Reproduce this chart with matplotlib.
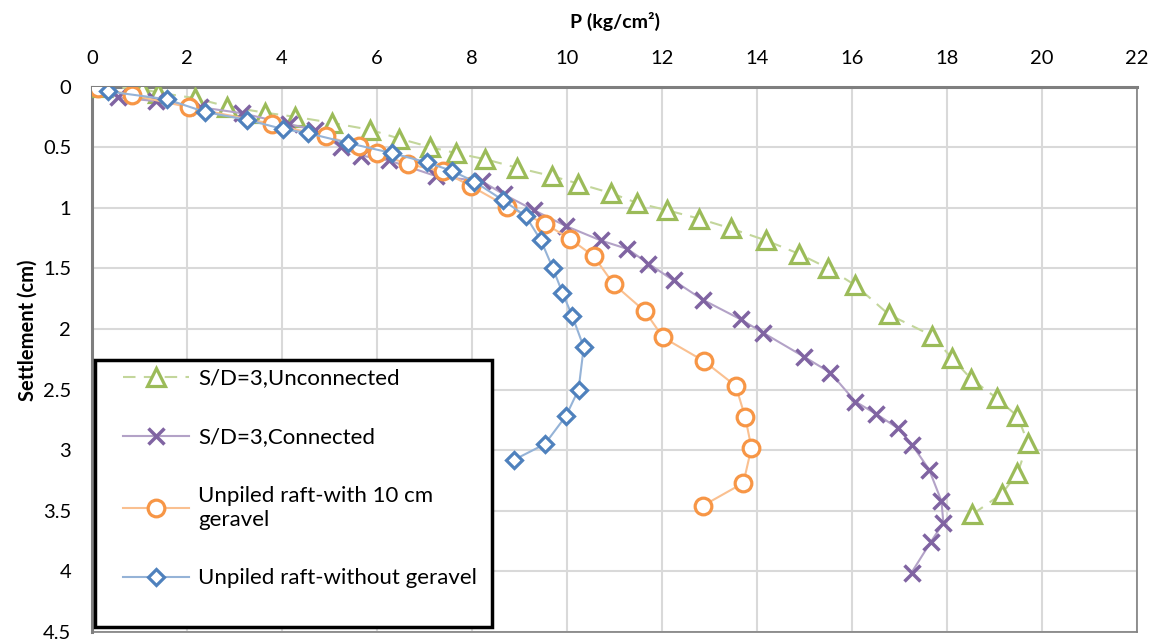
import matplotlib.pyplot as plt
from matplotlib.patches import Rectangle
from matplotlib.ticker import MultipleLocator, FuncFormatter

# S/D=3, unconnected
p_unconn = [0.2, 1.06, 1.39, 2.17, 2.85, 3.63, 4.28, 5.05, 5.86, 6.47, 7.12, 7.67,
            8.28, 8.95, 9.69, 10.23, 10.93, 11.47, 12.10, 12.78, 13.44, 14.19, 14.88,
            15.50, 16.07, 16.77, 17.68, 18.10, 18.50, 19.04, 19.48, 19.70, 19.48,
            19.15, 18.53]
s_unconn = [0.0, 0.02, 0.05, 0.096, 0.165, 0.215, 0.25, 0.30, 0.357, 0.43, 0.50, 0.55,
            0.60, 0.67, 0.74, 0.80, 0.88, 0.96, 1.02, 1.09, 1.17, 1.27, 1.38,
            1.50, 1.64, 1.88, 2.055, 2.24, 2.41, 2.57, 2.72, 2.94, 3.19,
            3.36, 3.53]

# S/D=3, connected
p_conn = [0.0, 0.55, 1.34, 2.27, 3.15, 4.15, 4.70, 5.24, 5.67, 6.25, 7.25, 8.20,
          8.67, 9.30, 9.97, 10.71, 11.27, 11.71, 12.24, 12.86, 13.65, 14.12, 14.99,
          15.54, 16.07, 16.50, 16.97, 17.27, 17.62, 17.88, 17.92, 17.65, 17.25]
s_conn = [0.0, 0.09, 0.12, 0.17, 0.22, 0.31, 0.36, 0.50, 0.57, 0.61, 0.74, 0.78,
          0.89, 1.02, 1.15, 1.27, 1.34, 1.46, 1.60, 1.76, 1.92, 2.03, 2.23,
          2.36, 2.60, 2.70, 2.82, 2.96, 3.16, 3.42, 3.60, 3.76, 4.01]

# unpiled raft with 10 cm gravel
p_grav = [0.13, 0.83, 2.03, 3.79, 4.92, 5.62, 6.00, 6.65, 7.38, 7.97, 8.74, 9.53,
          10.07, 10.56, 10.98, 11.64, 12.02, 12.88, 13.55, 13.75, 13.88, 13.71, 12.85]
s_grav = [0.01, 0.07, 0.17, 0.31, 0.41, 0.49, 0.55, 0.64, 0.70, 0.82, 0.99, 1.13,
          1.26, 1.40, 1.63, 1.855, 2.07, 2.265, 2.47, 2.73, 2.98, 3.27, 3.46]

# unpiled raft without gravel
p_nograv = [0.33, 1.57, 2.38, 3.27, 4.01, 4.55, 5.38, 6.32, 7.04, 7.57, 8.05, 8.66,
            9.13, 9.45, 9.70, 9.90, 10.11, 10.35, 10.24, 9.98, 9.53, 8.88]
s_nograv = [0.04, 0.105, 0.21, 0.275, 0.35, 0.385, 0.465, 0.55, 0.625, 0.695, 0.785, 0.94,
            1.07, 1.27, 1.50, 1.70, 1.895, 2.15, 2.50, 2.715, 2.95, 3.08]

plt.rcParams['font.family'] = ['Lato', 'DejaVu Sans']

fig = plt.figure(figsize=(11.51, 6.41), dpi=100)
ax = fig.add_axes([0.080, 0.014, 0.908, 0.851])

ax.plot(p_unconn, s_unconn, color='#c3d69b', lw=1.5, ls=(0, (6, 4)),
        marker='^', ms=12.5, mfc='white', mec='#9bbb59', mew=2.3,
        label='S/D=3,Unconnected', zorder=3)
ax.plot(p_conn, s_conn, color='#b3a2c7', lw=1.5,
        marker='x', ms=11, mec='#8064a2', mew=2.5,
        label='S/D=3,Connected', zorder=3)
ax.plot(p_grav, s_grav, color='#fac090', lw=1.5,
        marker='o', ms=12, mfc='white', mec='#f79646', mew=2.3,
        label='Unpiled raft-with 10 cm\ngeravel', zorder=3)
ax.plot(p_nograv, s_nograv, color='#95b3d7', lw=1.5,
        marker='D', ms=8.5, mfc='white', mec='#4f81bd', mew=2.3,
        label='Unpiled raft-without geravel', zorder=3)

ax.set_xlim(0, 22)
ax.set_ylim(4.5, 0)
ax.xaxis.set_major_locator(MultipleLocator(2))
ax.yaxis.set_major_locator(MultipleLocator(0.5))
ax.yaxis.set_major_formatter(FuncFormatter(lambda v, pos: '%g' % v))
ax.xaxis.tick_top()
ax.xaxis.set_label_position('top')
ax.tick_params(axis='both', length=0, labelsize=14.5, colors='black')
ax.tick_params(axis='x', pad=14)
ax.tick_params(axis='y', pad=15)
ax.grid(True, color='#d9d9d9', lw=1.5)
ax.set_axisbelow(True)

for side in ['left', 'top']:
    ax.spines[side].set_color('#7f7f7f')
    ax.spines[side].set_linewidth(2.2)
for side in ['right', 'bottom']:
    ax.spines[side].set_color('#7f7f7f')
    ax.spines[side].set_linewidth(1.2)

ax.set_xlabel('P (kg/cm²)', fontsize=14, fontweight='bold', labelpad=16)
ax.set_ylabel('Settlement (cm)', fontsize=14.5, fontweight='bold')
ax.yaxis.set_label_coords(-0.052, 0.554)

# legend box (Excel style, fixed size)
ax.add_patch(Rectangle((0.003, 0.009), 0.380, 0.490, transform=ax.transAxes,
                       facecolor='white', edgecolor='black', lw=2.5, zorder=4))
leg = ax.legend(loc='upper left', bbox_to_anchor=(0.0294, 0.483), fontsize=16,
                handlelength=3.0, handletextpad=0.4, labelspacing=1.75,
                borderpad=0, borderaxespad=0, frameon=False)
leg.set_zorder(5)

fig.savefig('out.png', dpi=100)
